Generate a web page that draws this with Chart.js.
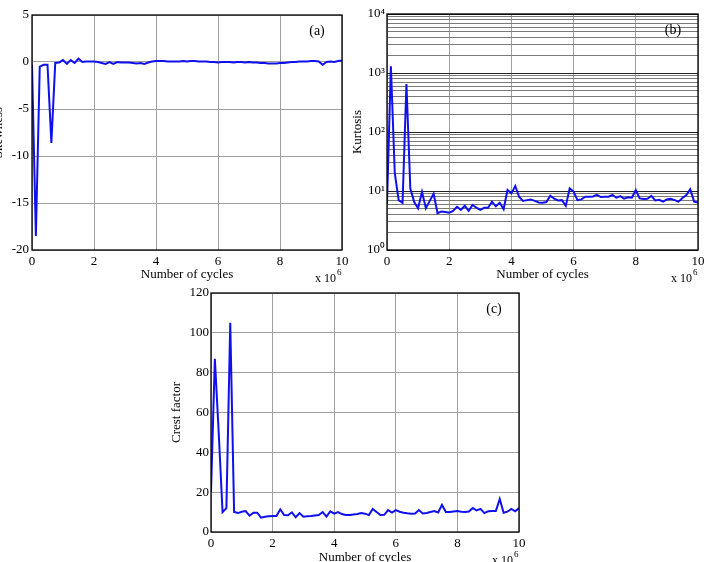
<!DOCTYPE html>
<html>
<head>
<meta charset="utf-8">
<script src="https://cdn.jsdelivr.net/npm/chart.js@4.4.1/dist/chart.umd.min.js"></script>
<style>
  html, body { margin: 0; padding: 0; background: #fff; overflow: hidden; }
  body { width: 704px; height: 562px; position: relative; }
  canvas { position: absolute; }
  #skew { left: -10px; top: 0px; }
  #kurt { left: 350px; top: 0px; }
  #crest { left: 160px; top: 280px; }
</style>
</head>
<body>
<canvas id="skew" width="362" height="285"></canvas>
<canvas id="kurt" width="354" height="285"></canvas>
<canvas id="crest" width="380" height="288"></canvas>
<script>
// number of cycles, in units of 10^6
const cycles = [
  0, 0.125, 0.25, 0.375, 0.5, 0.625, 0.75, 0.875, 1, 1.125,
  1.25, 1.375, 1.5, 1.625, 1.75, 1.875, 2, 2.125, 2.25, 2.375,
  2.5, 2.625, 2.75, 2.875, 3, 3.125, 3.25, 3.375, 3.5, 3.625,
  3.75, 3.875, 4, 4.125, 4.25, 4.375, 4.5, 4.625, 4.75, 4.875,
  5, 5.125, 5.25, 5.375, 5.5, 5.625, 5.75, 5.875, 6, 6.125,
  6.25, 6.375, 6.5, 6.625, 6.75, 6.875, 7, 7.125, 7.25, 7.375,
  7.5, 7.625, 7.75, 7.875, 8, 8.125, 8.25, 8.375, 8.5, 8.625,
  8.75, 8.875, 9, 9.125, 9.25, 9.375, 9.5, 9.625, 9.75, 9.875,
  10
];

const skewness = [
  -0.3, -18.5, -0.5, -0.3, -0.3, -8.6, -0.1, -0.05, 0.2, -0.2,
  0.2, -0.1, 0.35, 0, 0.05, 0.05, 0.05, 0, -0.1, -0.2,
  0, -0.2, 0, -0.05, -0.05, -0.05, -0.1, -0.15, -0.1, -0.2,
  -0.05, 0.05, 0.1, 0.1, 0.1, 0.05, 0.05, 0.05, 0.05, 0.1,
  0.05, 0.1, 0.1, 0.05, 0.05, 0.05, 0, 0, -0.05, 0,
  0, 0, -0.05, 0, 0, -0.05, 0, -0.05, -0.05, -0.1,
  -0.1, -0.15, -0.15, -0.15, -0.1, -0.1, -0.05, 0, 0, 0.05,
  0.05, 0.05, 0.1, 0.1, 0.05, -0.3, 0, 0.05, 0, 0.1,
  0.15
];

const kurtosis = [
  6, 1300, 20, 7, 6.3, 650, 11, 6.5, 5.1, 9.7,
  5.1, 6.8, 9.0, 4.2, 4.5, 4.4, 4.3, 4.6, 5.4, 4.8,
  5.6, 4.6, 5.8, 5.2, 4.8, 5.2, 5.2, 6.6, 5.5, 6.3,
  4.9, 10.4, 9.1, 12.2, 7.9, 6.8, 7.0, 7.2, 6.8, 6.4,
  6.3, 6.5, 8.3, 7.4, 6.9, 7.0, 5.6, 11.1, 9.8, 7.0,
  7.2, 8.0, 8.0, 8.1, 8.6, 7.9, 8.0, 8.0, 8.6, 7.7,
  8.2, 7.4, 7.8, 7.7, 10.4, 7.5, 7.3, 7.4, 8.3, 6.9,
  7.1, 6.6, 7.2, 7.4, 7.0, 6.6, 7.6, 8.5, 10.7, 6.6,
  6.4
];

const crestFactor = [
  20, 87, 50, 10, 12, 105, 10, 9.5, 10.2, 10.5,
  8.2, 9.7, 9.7, 7.2, 7.7, 7.9, 8.0, 8.0, 11.4, 8.5,
  8.4, 9.9, 7.4, 9.5, 7.7, 7.9, 8.0, 8.3, 8.5, 10,
  7.7, 10.4, 9.2, 10, 9.0, 8.5, 8.5, 8.8, 9.0, 9.5,
  9.2, 8.5, 11.6, 10, 8.5, 8.6, 11, 9.8, 11, 10.2,
  9.7, 9.4, 9.2, 9.3, 11, 9.3, 9.5, 10, 10.5, 9.8,
  13.6, 10, 10, 10.3, 10.5, 10.2, 10, 10.3, 12, 10.8,
  11.6, 9.5, 10.4, 10.6, 10.6, 16.6, 9.7, 10.2, 11.6, 10.4,
  12
];

// log axis decades and their labels
const decades = [1, 10, 100, 1000, 10000];
const decadeLabels = ['10\u2070', '10\u00b9', '10\u00b2', '10\u00b3', '10\u2074'];
const minorSteps = [2, 3, 4, 5, 6, 7, 8, 9];

const serif = '"Liberation Serif", "Times New Roman", serif';
const lineBlue = '#1010ee';

// box, panel tag and the "x 10^6" note
const frame = {
  id: 'frame',
  afterDraw(chart, args, o) {
    const { ctx, chartArea: a } = chart;
    ctx.save();
    ctx.strokeStyle = '#000';
    ctx.lineWidth = 1.3;
    ctx.strokeRect(a.left, a.top, a.right - a.left, a.bottom - a.top);
    ctx.fillStyle = '#000';
    ctx.font = '14px ' + serif;
    ctx.textAlign = 'center';
    ctx.textBaseline = 'middle';
    ctx.fillText(o.tag, a.right - 25, a.top + 16);
    ctx.textAlign = 'left';
    ctx.textBaseline = 'alphabetic';
    ctx.font = '12px ' + serif;
    const x0 = a.right - 27;
    ctx.fillText('x 10', x0, a.bottom + 32);
    const w = ctx.measureText('x 10').width;
    ctx.font = '9px ' + serif;
    ctx.fillText('6', x0 + w + 1, a.bottom + 25);
    ctx.restore();
  }
};

function xAxis(h) {
  return {
    type: 'linear', min: 0, max: 10,
    ticks: { stepSize: 2, color: '#000', font: { family: serif, size: 13 }, padding: 4, maxRotation: 0 },
    grid: { color: '#a0a0a0', drawTicks: false },
    border: { display: false },
    title: { display: true, text: 'Number of cycles', color: '#000', font: { family: serif, size: 13 }, padding: { top: 0, bottom: 3 } },
    afterFit(s) { s.height = h; s.paddingLeft = 0; s.paddingRight = 0; }
  };
}

function yTitle(text, pad) {
  return { display: true, text: text, color: '#000', font: { family: serif, size: 13 }, padding: { top: pad, bottom: 0 } };
}

function panel(id, values, yScale, pad, tag) {
  return new Chart(document.getElementById(id), {
    type: 'line',
    data: {
      datasets: [{
        data: cycles.map((c, i) => ({ x: c, y: values[i] })),
        borderColor: lineBlue,
        borderWidth: 2,
        pointRadius: 0,
        tension: 0,
        fill: false
      }]
    },
    options: {
      responsive: false,
      animation: false,
      layout: { padding: pad.layout },
      plugins: { legend: { display: false }, tooltip: { enabled: false }, frame: { tag: tag } },
      scales: { x: xAxis(pad.xh), y: yScale }
    },
    plugins: [frame]
  });
}

// (a) skewness
panel('skew', skewness, {
  type: 'linear', min: -20, max: 5,
  ticks: { stepSize: 5, color: '#000', font: { family: serif, size: 13 }, padding: 3 },
  grid: { color: '#a0a0a0', drawTicks: false },
  border: { display: false },
  title: yTitle('Skewness', 1),
  afterFit(s) { s.width = 42; s.paddingTop = 0; s.paddingBottom = 0; }
}, { layout: { top: 15, right: 10 }, xh: 35 }, '(a)');

// (b) kurtosis, log scale
const kurtTicks = [];
decades.forEach((d, i) => {
  kurtTicks.push(d);
  if (i < decades.length - 1) minorSteps.forEach(m => kurtTicks.push(m * d));
});

panel('kurt', kurtosis, {
  type: 'logarithmic', min: 1, max: 10000,
  afterBuildTicks(s) { s.ticks = kurtTicks.map(v => ({ value: v })); },
  ticks: {
    autoSkip: false, color: '#000', font: { family: serif, size: 13 }, padding: 2,
    callback(v) {
      const k = decades.indexOf(v);
      return k >= 0 ? decadeLabels[k] : '';
    }
  },
  grid: {
    drawTicks: false,
    color: ctx => decades.includes(ctx.tick.value) ? '#222222' : '#7a7a7a'
  },
  border: { display: false },
  title: yTitle('Kurtosis', 0),
  afterFit(s) { s.width = 37; s.paddingTop = 0; s.paddingBottom = 0; }
}, { layout: { top: 14, right: 6 }, xh: 35 }, '(b)');

// (c) crest factor
panel('crest', crestFactor, {
  type: 'linear', min: 0, max: 120,
  ticks: { stepSize: 20, color: '#000', font: { family: serif, size: 13 }, padding: 2 },
  grid: { color: '#a0a0a0', drawTicks: false },
  border: { display: false },
  title: yTitle('Crest factor', 9),
  afterFit(s) { s.width = 51; s.paddingTop = 0; s.paddingBottom = 0; }
}, { layout: { top: 13, right: 21 }, xh: 36 }, '(c)');
</script>
</body>
</html>
